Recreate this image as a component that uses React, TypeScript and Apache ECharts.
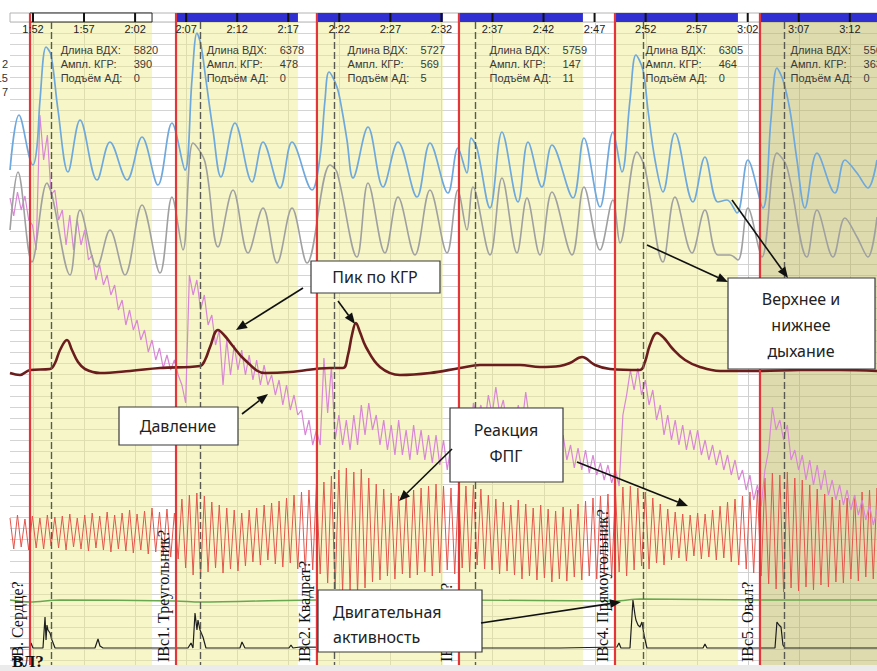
import React, { useEffect, useRef } from "react";
import * as echarts from "echarts";

// ---- axes (time in seconds, vertical in chart divisions) ----
const timeMin = 109.75;
const timeMax = 194.66;

const tickTimes = [112, 117, 122, 127, 132, 137, 142, 147, 152, 157, 162, 167, 172, 177, 182, 187, 192];
const tickLabels = ["1:52", "1:57", "2:02", "2:07", "2:12", "2:17", "2:22", "2:27", "2:32", "2:37", "2:42", "2:47", "2:52", "2:57", "3:02", "3:07", "3:12"];

// ---- question events ----
const onsetTimes = [111.71, 126.01, 139.81, 153.72, 169.0, 183.2];
const answerTimes = [113.77, 128.36, 141.48, 155.29, 171.74, 185.55];
const zoneEnds = [123.66, 137.95, 152.15, 165.86, 181.04, 194.66];
const questions = ["IB. Сердце?", "IBc1. Треугольник?", "IBc2. Квадрат?", "IBc3. Круг?", "IBc4. Прямоугольник?", "IBc5. Овал?"];
const breathLength = [5820, 6378, 5727, 5759, 6305, 5561];
const gsrAmplitude = [390, 478, 569, 147, 464, 363];
const bpRise = [0, 0, 5, 11, 0, 0];

// ---- upper breathing (blue) ----
const upperBreath = [
  [109.75, 17.0], [110.63, 11.5], [112.0, 16.5], [112.39, 14.7], [112.69, 10.0], [113.28, 4.7], [113.77, 5.5], [114.45, 11.0],
  [115.43, 17.2], [116.61, 12.0], [118.27, 18.0], [119.54, 14.2], [121.21, 18.0], [122.68, 13.7], [124.24, 18.5], [125.61, 12.3],
  [126.89, 17.0], [127.57, 8.0], [128.06, 3.3], [128.45, 4.5], [128.94, 8.0], [129.63, 13.0], [130.41, 17.7], [131.78, 12.3],
  [133.45, 18.2], [134.53, 14.2], [136.19, 18.8], [137.37, 14.2], [139.33, 19.0], [140.11, 15.7], [140.6, 10.0], [140.99, 7.2],
  [141.77, 8.7], [142.26, 11.0], [142.75, 14.0], [143.34, 17.8], [144.81, 12.7], [146.28, 18.7], [147.75, 14.2], [149.61, 19.7],
  [150.88, 14.3], [152.64, 19.3], [153.62, 14.8], [154.5, 17.3], [154.9, 13.8], [155.48, 14.8], [156.76, 20.8], [157.93, 13.2],
  [159.5, 20.2], [160.48, 14.2], [161.85, 18.7], [162.83, 14.5], [164.89, 19.8], [165.96, 13.8], [167.53, 20.7], [168.8, 13.2],
  [169.68, 17.2], [170.47, 10.0], [171.05, 5.5], [171.74, 7.0], [172.23, 11.0], [172.92, 16.0], [173.7, 19.2], [174.87, 13.3],
  [176.64, 20.2], [177.81, 15.7], [179.08, 20.2], [179.97, 20.0], [180.95, 21.3], [182.02, 16.0], [183.49, 20.8], [184.27, 12.0],
  [184.86, 6.8], [185.45, 8.0], [186.13, 11.0], [186.82, 16.0], [187.6, 20.8], [188.78, 15.3], [190.54, 19.3], [191.52, 16.0],
  [192.7, 17.3], [193.77, 18.8], [194.66, 16.0],
];

// ---- lower breathing (gray) ----
const lowerBreath = [
  [109.75, 23.0], [110.53, 17.2], [111.9, 26.2], [113.37, 18.3], [113.86, 19.5], [115.63, 27.5], [116.61, 21.0], [118.27, 26.7],
  [119.54, 23.0], [121.01, 27.5], [122.68, 20.5], [124.44, 27.3], [125.61, 19.7], [126.69, 25.0], [127.67, 14.3], [128.85, 16.2],
  [130.12, 24.7], [131.59, 19.0], [133.06, 25.3], [134.53, 20.8], [135.9, 26.3], [137.37, 20.8], [138.84, 26.3], [141.09, 16.5],
  [141.77, 17.2], [143.73, 25.7], [144.81, 18.3], [146.47, 25.3], [147.75, 19.7], [149.41, 25.5], [150.88, 19.0], [152.55, 25.3],
  [153.62, 19.0], [154.5, 23.0], [155.09, 18.7], [156.76, 25.5], [157.93, 17.8], [159.4, 25.3], [160.38, 19.8], [161.65, 25.5],
  [162.83, 19.2], [164.79, 25.5], [165.96, 18.7], [167.53, 25.0], [168.8, 20.0], [169.49, 24.3], [171.15, 15.2], [171.93, 16.8],
  [173.7, 26.2], [174.87, 19.7], [176.54, 25.3], [177.81, 21.0], [179.08, 25.5], [180.26, 25.5], [181.05, 26.0], [182.02, 20.8],
  [183.39, 25.7], [184.86, 15.3], [185.84, 16.7], [187.8, 25.7], [188.78, 21.0], [190.35, 25.7], [191.52, 21.8], [192.7, 23.7],
  [193.77, 25.7], [194.66, 21.7],
];

// ---- skin conductance (КГР, dark red) ----
const gsr = [
  [109.75, 37.3], [110.73, 37.5], [111.71, 37.0], [113.67, 36.9], [114.16, 36.3], [114.65, 35.0], [115.33, 34.0], [115.82, 35.0],
  [116.41, 36.2], [117.09, 36.9], [118.56, 37.3], [121.5, 37.1], [124.44, 36.8], [128.36, 36.6], [128.85, 36.0], [129.34, 34.7],
  [130.12, 33.0], [130.8, 33.6], [131.49, 34.5], [132.76, 36.0], [134.72, 37.3], [137.17, 37.2], [141.09, 36.8], [142.36, 36.8],
  [142.85, 35.5], [143.24, 33.5], [143.63, 32.3], [144.02, 33.2], [144.61, 34.7], [145.98, 36.7], [147.94, 37.5], [150.88, 37.3],
  [153.82, 36.8], [155.78, 36.5], [159.7, 36.5], [161.65, 36.7], [163.61, 36.6], [164.59, 36.3], [165.77, 35.7], [167.04, 36.5],
  [168.51, 36.9], [171.45, 37.0], [171.93, 36.2], [172.42, 34.5], [173.11, 33.3], [173.8, 33.8], [174.58, 34.8], [175.86, 36.0],
  [177.32, 36.7], [179.28, 37.1], [183.2, 37.1], [187.12, 37.0], [191.03, 37.0], [194.66, 37.1],
];

// ---- cardio channels, one value pair per heart beat ----
const beatStart = 109.75;
const beatPeriod = 0.732;

const ppgTop = [
  51.8, 51.5, 51.9, 51.6,
  51.8, 51.5, 51.7, 51.6, 51.4, 51.8, 51.5,
  51.3, 51.6, 51.2, 51.5, 51.3, 51.0, 51.4, 51.1, 50.8,
  51.2, 50.9, 51.3,
  49.9, 49.5, 49.3, 49.6, 50.2, 50.5, 50.8, 51.0, 51.3, 51.0, 50.8, 50.5, 50.3, 50.1, 49.8, 49.5, 49.2, 49.0,
  48.5, 48.2, 47.6, 47.0, 46.8, 47.2, 46.9, 47.8, 48.4, 48.9, 49.3, 49.6, 49.4, 49.0, 48.8, 48.6, 48.4, 48.6, 48.8,
  49.0, 48.6, 48.5, 48.9, 49.5, 49.9, 50.2, 50.5, 50.0, 50.4, 50.8, 50.5, 50.9, 51.1, 50.7, 50.9, 50.4, 50.1, 49.8, 49.6, 49.4,
  49.0, 48.7, 48.6, 48.8, 49.2, 49.8, 50.4, 50.9, 51.2, 51.4, 51.5, 51.3, 51.4, 51.0, 50.6, 50.2, 49.9, 49.6, 49.2, 49.0,
  47.8, 47.3, 47.5, 47.2, 47.8, 48.0, 48.5, 48.9, 49.4, 49.7, 50.0, 49.8, 49.5, 49.2, 49.0, 48.8,
];
const ppgBottom = [
  54.9, 54.7, 55.0, 54.8,
  54.9, 54.6, 54.8, 55.0, 54.7, 54.9, 55.1,
  54.8, 55.0, 55.2, 54.9, 55.1, 55.3, 55.0, 55.4, 55.2,
  55.5, 55.7, 55.9,
  56.8, 57.5, 57.7, 57.2, 56.8, 57.3, 56.9, 57.1, 56.6, 56.2, 56.5, 56.0, 56.4, 56.7, 56.3, 56.9, 57.2, 57.0,
  57.4, 58.3, 58.9, 59.2, 59.0, 59.3, 58.8, 58.2, 58.0, 57.6, 57.9, 57.4, 57.8, 57.5, 57.2, 57.6, 57.3, 57.0, 57.4,
  56.8, 57.2, 56.5, 56.9, 57.0, 57.4, 57.1, 57.5, 57.9, 57.6, 58.0, 57.8, 58.2, 57.9, 58.1, 57.7, 58.0, 57.6, 57.9, 57.4, 57.7,
  57.2, 57.6, 57.0, 56.6, 56.9, 56.3, 56.5, 56.0, 55.8, 56.1, 55.6, 55.9, 55.7, 56.0, 55.8, 56.2, 56.5, 56.9, 57.3, 57.6,
  58.4, 58.9, 59.2, 58.8, 59.1, 58.7, 59.0, 58.5, 58.7, 58.2, 58.3, 57.9, 58.1, 57.7, 57.9, 57.6,
];

const pressureHigh = [
  19.8, 19.2, 19.6, 22.5, 11.5, 13.5, 19.0, 21.0, 21.5, 22.0, 23.0, 25.5, 26.5, 27.5, 28.5, 30.0, 31.0, 32.0, 33.0, 34.0,
  34.8, 35.5, 36.0, 38.5, 27.5, 28.0, 29.5, 31.5, 33.0, 34.0, 34.5, 35.0, 35.5, 36.0, 36.5, 37.5, 38.0, 38.5, 39.5, 41.0,
  42.0, 43.0, 35.8, 36.7, 41.5, 42.0, 41.5, 40.5, 40.3, 41.5, 42.0, 42.5, 42.0, 43.0, 42.5, 43.0, 43.5, 43.5, 44.0, 44.5,
  46.0, 42.0, 40.3, 40.5, 39.5, 38.7, 40.0, 41.0, 40.5, 39.2, 42.0, 42.5, 42.5, 43.0, 43.5, 44.5, 44.8, 45.0, 45.5, 46.3,
  46.5, 47.0, 41.5, 37.0, 36.8, 38.0, 39.0, 40.5, 41.5, 42.0, 42.5, 43.0, 43.0, 44.0, 44.5, 45.0, 45.5, 46.0, 47.0, 47.5,
  48.5, 47.0, 40.7, 42.0, 42.5, 45.0, 45.5, 46.0, 46.5, 47.0, 48.0, 48.5, 49.0, 49.5, 50.0, 50.5, 51.0,
];
const pressureLow = [
  21.6, 21.0, 22.0, 25.0, 16.0, 19.5, 22.0, 24.5, 25.0, 24.5, 26.0, 28.0, 28.5, 29.5, 31.0, 32.5, 33.0, 34.0, 35.2, 36.0,
  36.8, 37.0, 37.5, 40.3, 29.5, 31.0, 32.5, 34.5, 38.5, 37.5, 37.0, 37.5, 38.0, 38.5, 38.5, 39.5, 40.5, 41.0, 41.5, 43.5,
  44.5, 44.5, 41.3, 44.0, 44.5, 45.0, 44.5, 43.5, 43.0, 44.5, 45.0, 45.5, 45.5, 46.0, 45.5, 46.0, 46.3, 46.5, 47.0, 47.3,
  48.0, 44.0, 42.0, 42.5, 41.5, 41.3, 42.5, 43.0, 42.5, 42.0, 44.5, 45.0, 45.0, 45.5, 46.0, 46.8, 47.0, 47.3, 47.5, 48.0,
  48.3, 48.6, 39.5, 39.0, 39.5, 40.5, 42.0, 43.5, 44.0, 44.5, 45.0, 45.0, 45.5, 46.0, 46.5, 47.0, 47.5, 48.0, 49.0, 50.0,
  50.7, 45.0, 43.0, 44.0, 46.0, 47.0, 48.0, 48.5, 49.0, 49.5, 50.0, 50.5, 51.0, 51.5, 52.0, 52.5, 52.7,
];

// ---- green and motion channels ----
const greenChannel = [
  [109.75, 60.0], [111.71, 60.2], [114.65, 60.0], [126.01, 60.1], [128.36, 60.2], [139.81, 60.0],
  [153.72, 60.0], [169.0, 60.1], [171.45, 59.9], [183.2, 60.0], [194.66, 60.0],
];
const motion = [
  [109.75, 64.8], [111.71, 64.7], [111.81, 64.3], [112.0, 64.8], [112.98, 64.8], [113.18, 61.7], [113.28, 64.0], [113.37, 62.5],
  [113.47, 63.0], [113.67, 63.3], [113.86, 64.0], [114.16, 64.8], [118.07, 64.8], [118.37, 63.9], [118.56, 64.6], [118.86, 64.8],
  [127.18, 64.8], [127.48, 64.3], [127.67, 64.8], [127.87, 61.3], [128.06, 63.0], [128.16, 62.0], [128.36, 63.0], [128.65, 63.7],
  [128.94, 64.8], [132.27, 64.8], [132.47, 64.2], [132.76, 64.8], [137.07, 64.8], [137.27, 64.5], [137.46, 64.8], [138.15, 64.7],
  [150.88, 64.8], [163.61, 64.8], [169.19, 64.7], [169.39, 64.3], [169.58, 64.8], [170.47, 64.8], [170.76, 60.0], [170.96, 61.5],
  [171.05, 62.0], [171.25, 62.5], [171.45, 62.7], [171.64, 62.2], [171.84, 63.5], [172.13, 64.8], [177.62, 64.8], [177.81, 64.4],
  [178.01, 64.8], [184.67, 64.8], [184.86, 62.2], [185.06, 62.5], [185.26, 62.7], [185.45, 64.5], [185.65, 64.8], [194.66, 64.8],
];

function beatPairs(first: number[], second: number[]) {
  const out: number[][] = [];
  first.forEach((v, i) => {
    const t = beatStart + i * beatPeriod;
    out.push([t, v]);
    out.push([t + beatPeriod / 2, second[i]]);
  });
  return out;
}

const YELLOW = "rgba(236,236,140,0.48)";
const OLIVE = "rgba(190,186,95,0.5)";
const SANS = '"Liberation Sans", Arial, sans-serif';
const NOTE_FONT = '16px "Noto Sans", sans-serif';

function arrow(x1: number, y1: number, x2: number, y2: number) {
  const a = Math.atan2(y2 - y1, x2 - x1);
  const L = 11;
  const W = 4.5;
  const bx = x2 - L * Math.cos(a);
  const by = y2 - L * Math.sin(a);
  const px = -Math.sin(a) * W;
  const py = Math.cos(a) * W;
  return [
    { type: "line", z: 100, shape: { x1, y1, x2: bx, y2: by }, style: { stroke: "#111", lineWidth: 1.6 } },
    { type: "polygon", z: 100, shape: { points: [[x2, y2], [bx + px, by + py], [bx - px, by - py]] }, style: { fill: "#111" } },
  ];
}

function noteBox(x: number, y: number, w: number, h: number) {
  return { type: "rect", z: 99, shape: { x, y, width: w, height: h }, style: { fill: "#fff", stroke: "#3a3a3a", lineWidth: 1.2 } };
}

function noteText(text: string, x: number, y: number, align: string = "center") {
  return { type: "text", z: 101, x, y, style: { text, font: NOTE_FONT, fill: "#222", align, verticalAlign: "middle" } };
}

function buildOption() {
  const lineBase = { type: "line", symbol: "none", silent: true, xAxisIndex: 0, yAxisIndex: 0 };
  return {
    animation: false,
    backgroundColor: "#ffffff",
    grid: [
      { left: 10, right: 0, top: 22, bottom: 6 },
      { left: 10, right: 0, top: 13, height: 9, show: true, backgroundColor: "#ffffff", borderColor: "#b4b4b4", borderWidth: 1 },
    ],
    xAxis: [
      { type: "value", gridIndex: 0, min: timeMin, max: timeMax, show: false },
      { type: "value", gridIndex: 1, min: timeMin, max: timeMax, show: false },
    ],
    yAxis: [
      {
        type: "value", gridIndex: 0, inverse: true, min: 2.2, max: 66.5, interval: 1.1,
        axisLine: { show: false }, axisTick: { show: false }, axisLabel: { show: false },
        splitLine: { show: true, lineStyle: { color: "#d4d4d4", width: 1 } },
      },
      { type: "value", gridIndex: 1, min: 0, max: 1, show: false },
    ],
    series: [
      {
        type: "custom", name: "vgrid", z: 1, silent: true, xAxisIndex: 0, yAxisIndex: 0,
        data: tickTimes.map((t) => [t, 30]),
        renderItem: (params: any, api: any) => {
          const cs = params.coordSys;
          const x = Math.round(api.coord([api.value(0), 30])[0]) + 0.5;
          return { type: "line", shape: { x1: x, y1: cs.y, x2: x, y2: cs.y + cs.height }, style: { stroke: "#cfcfcf", lineWidth: 1 } };
        },
      },
      {
        type: "custom", name: "zones", z: 2, silent: true, xAxisIndex: 0, yAxisIndex: 0,
        data: onsetTimes.map((t, i) => [t, 30, zoneEnds[i], i === 5 ? 1 : 0]),
        renderItem: (params: any, api: any) => {
          const cs = params.coordSys;
          const x1 = api.coord([api.value(0), 30])[0];
          const x2 = api.coord([api.value(2), 30])[0];
          return { type: "rect", shape: { x: x1, y: cs.y, width: x2 - x1, height: cs.height }, style: { fill: api.value(3) ? OLIVE : YELLOW } };
        },
      },
      {
        type: "custom", name: "headerBar", z: 2, silent: true, xAxisIndex: 1, yAxisIndex: 1,
        data: onsetTimes.map((t, i) => [t, 0.5, zoneEnds[i], i === 0 ? 1 : 0]),
        renderItem: (params: any, api: any) => {
          const a = api.coord([api.value(0), 1]);
          const b = api.coord([api.value(2), 0]);
          const plain = api.value(3) === 1;
          return {
            type: "rect",
            shape: { x: a[0], y: a[1], width: b[0] - a[0], height: b[1] - a[1] },
            style: plain ? { fill: "#ffffff", stroke: "#222", lineWidth: 1 } : { fill: "#2f2fd2" },
          };
        },
      },
      {
        type: "custom", name: "headerTicks", z: 3, silent: true, xAxisIndex: 1, yAxisIndex: 1,
        data: tickTimes.map((t) => [t, 0.5]),
        renderItem: (params: any, api: any) => {
          const a = api.coord([api.value(0), 1]);
          const b = api.coord([api.value(0), 0]);
          return { type: "rect", shape: { x: a[0] - 1, y: a[1], width: 2, height: b[1] - a[1] }, style: { fill: "#111" } };
        },
      },
      { ...lineBase, name: "ФПГ", z: 3, data: beatPairs(ppgTop, ppgBottom), lineStyle: { color: "#e4554c", width: 1 } },
      { ...lineBase, name: "Давление", z: 4, data: beatPairs(pressureHigh, pressureLow), lineStyle: { color: "#d886d5", width: 1.2 } },
      { ...lineBase, name: "Нижнее дыхание", z: 4, smooth: 0.35, data: lowerBreath, lineStyle: { color: "#a0a0a0", width: 1.6 } },
      { ...lineBase, name: "Верхнее дыхание", z: 4, smooth: 0.35, data: upperBreath, lineStyle: { color: "#6fa8dc", width: 1.7 } },
      { ...lineBase, name: "Канал", z: 4, smooth: 0.3, data: greenChannel, lineStyle: { color: "#6aa84f", width: 1.4 } },
      { ...lineBase, name: "Двигательная активность", z: 4, data: motion, lineStyle: { color: "#1e1e1e", width: 1.2 } },
      { ...lineBase, name: "КГР", z: 5, smooth: 0.4, data: gsr, lineStyle: { color: "#6b1c1c", width: 2.6 } },
      {
        type: "custom", name: "events", z: 6, silent: true, xAxisIndex: 0, yAxisIndex: 0,
        data: onsetTimes.map((t, i) => [t, 30, answerTimes[i]]),
        renderItem: (params: any, api: any) => {
          const cs = params.coordSys;
          const xr = api.coord([api.value(0), 30])[0];
          const xd = Math.round(api.coord([api.value(2), 30])[0]) + 0.5;
          return {
            type: "group",
            children: [
              { type: "line", shape: { x1: xd, y1: cs.y, x2: xd, y2: cs.y + cs.height }, style: { stroke: "#5a5a50", lineWidth: 1.4, lineDash: [7, 3] } },
              { type: "line", shape: { x1: xr, y1: cs.y - 9, x2: xr, y2: cs.y + cs.height }, style: { stroke: "#e3363a", lineWidth: 2.2 } },
            ],
          };
        },
      },
      {
        type: "custom", name: "timeLabels", z: 7, silent: true, xAxisIndex: 0, yAxisIndex: 0,
        data: tickTimes.map((t, i) => [t, 2.9, i]),
        renderItem: (params: any, api: any) => {
          const p = api.coord([api.value(0), api.value(1)]);
          return { type: "text", x: p[0], y: p[1], style: { text: tickLabels[api.value(2)], font: `11px ${SANS}`, fill: "#222", align: "center", verticalAlign: "middle" } };
        },
      },
      {
        type: "custom", name: "info", z: 7, silent: true, xAxisIndex: 0, yAxisIndex: 0,
        data: onsetTimes.map((t, i) => [t, 5.0, i]),
        renderItem: (params: any, api: any) => {
          const i = api.value(2);
          const names = ["Длина ВДХ:", "Ампл. КГР:", "Подъём АД:"];
          const vals = [breathLength[i], gsrAmplitude[i], bpRise[i]];
          const rows = [5.0, 6.4, 7.8];
          const children: any[] = [];
          rows.forEach((ry, r) => {
            const a = api.coord([api.value(0) + 3.0, ry]);
            const b = api.coord([api.value(0) + 10.15, ry]);
            children.push({ type: "text", x: a[0], y: a[1], style: { text: names[r], font: `11px ${SANS}`, fill: "#3a3a3a", align: "left", verticalAlign: "middle" } });
            children.push({ type: "text", x: b[0], y: b[1], style: { text: String(vals[r]), font: `11px ${SANS}`, fill: "#3a3a3a", align: "left", verticalAlign: "middle" } });
          });
          return { type: "group", children };
        },
      },
      {
        type: "custom", name: "questions", z: 7, silent: true, xAxisIndex: 0, yAxisIndex: 0,
        data: onsetTimes.map((t, i) => [t - 1.25, 66.2, i]),
        renderItem: (params: any, api: any) => {
          const p = api.coord([api.value(0), api.value(1)]);
          return {
            type: "text", x: p[0], y: p[1], rotation: Math.PI / 2,
            style: { text: questions[api.value(2)], font: '16px "Liberation Serif", serif', fill: "#111", align: "left", verticalAlign: "middle" },
          };
        },
      },
    ],
    graphic: [
      { type: "rect", z: 90, shape: { x: 0, y: 665, width: 877, height: 6 }, style: { fill: "#ebebeb" } },
      { type: "text", z: 90, x: 8, y: 64, style: { text: "2", font: `11px ${SANS}`, fill: "#333", align: "right", verticalAlign: "middle" } },
      { type: "text", z: 90, x: 8, y: 78, style: { text: "15", font: `11px ${SANS}`, fill: "#333", align: "right", verticalAlign: "middle" } },
      { type: "text", z: 90, x: 8, y: 92, style: { text: "7", font: `11px ${SANS}`, fill: "#333", align: "right", verticalAlign: "middle" } },
      { type: "text", z: 95, x: 12, y: 661, style: { text: "ВЛ?", font: 'bold 17px "Liberation Serif", serif', fill: "#111", align: "left", verticalAlign: "middle" } },
      noteBox(311, 261, 129, 32),
      noteText("Пик по КГР", 375, 277),
      noteBox(119, 407, 119, 38),
      noteText("Давление", 178, 426),
      noteBox(450, 408, 113, 74),
      noteText("Реакция", 506, 430),
      noteText("ФПГ", 506, 456),
      noteBox(728, 278, 147, 91),
      noteText("Верхнее и", 801, 299),
      noteText("нижнее", 801, 325),
      noteText("дыхание", 801, 351),
      noteBox(318, 590, 164, 62),
      noteText("Двигательная", 333, 612, "left"),
      noteText("активность", 333, 637, "left"),
      ...arrow(303, 288, 236, 330),
      ...arrow(338, 301, 355, 324),
      ...arrow(242, 414, 268, 394),
      ...arrow(452, 449, 399, 501),
      ...arrow(577, 462, 688, 506),
      ...arrow(647, 245, 728, 282),
      ...arrow(732, 200, 788, 278),
      ...arrow(481, 623, 621, 602),
    ],
  };
}

export default function App() {
  const ref = useRef<HTMLDivElement>(null);
  useEffect(() => {
    if (!ref.current) return;
    const chart = echarts.init(ref.current, undefined, { renderer: "svg" });
    chart.setOption(buildOption() as any);
    return () => chart.dispose();
  }, []);
  return (
    <div
      ref={ref}
      style={{ position: "absolute", left: 0, top: 0, width: 877, height: 671, background: "#ffffff" }}
    />
  );
}
